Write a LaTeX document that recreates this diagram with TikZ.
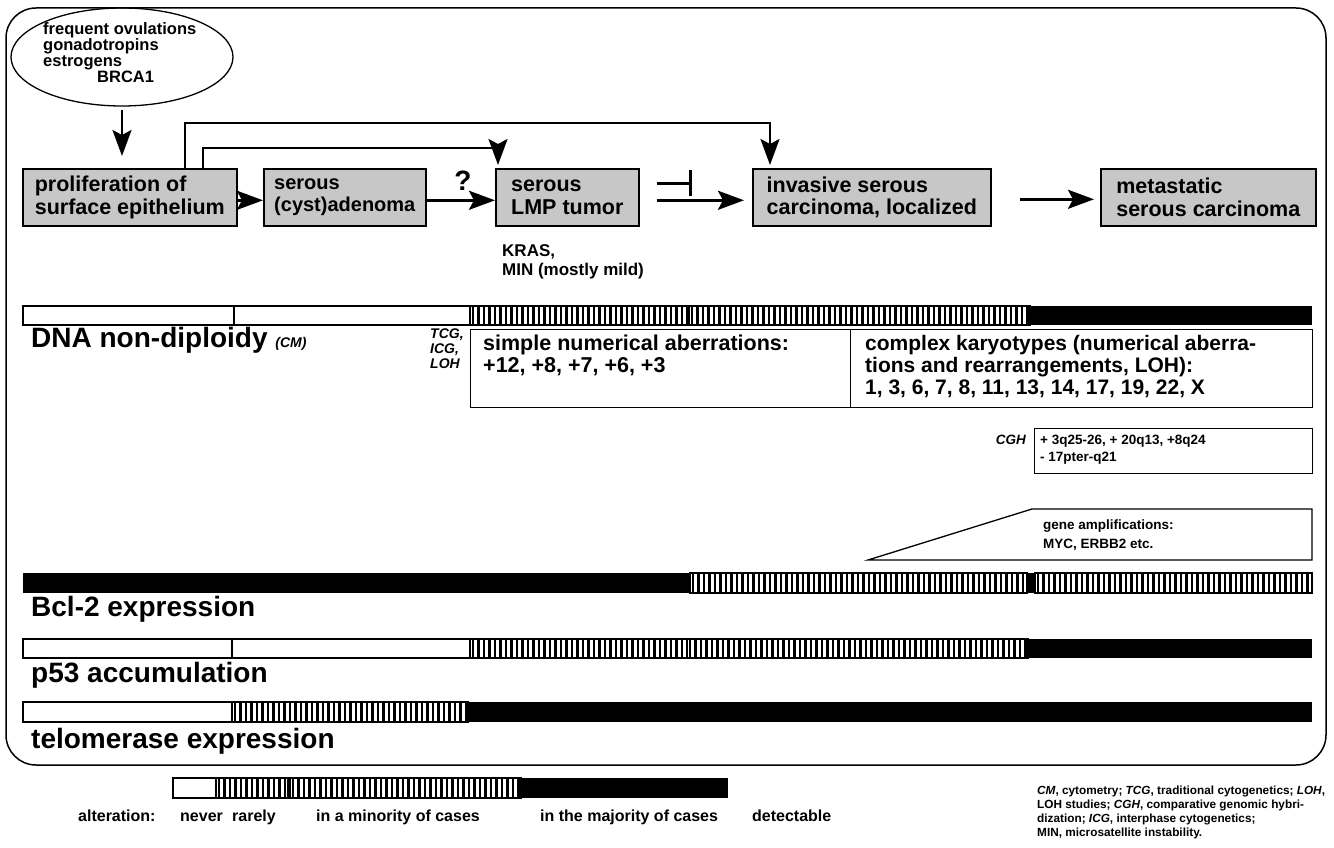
\documentclass[tikz,border=0pt]{standalone}
\usepackage{fontspec}
\setmainfont{Liberation Sans}
\usetikzlibrary{arrows.meta,shapes.geometric}
\newcommand\fsz[2]{\fontsize{#1}{#2}\selectfont\bfseries}
\newcommand\stripebar[4]{%
  \fill[white] (#1,#3) rectangle (#2,#4);
  \pgfmathtruncatemacro\nst{(#2-#1-3)/5.5}%
  \foreach \i in {0,...,\nst}{\fill (#1+1.5+\i*5.5,#3) rectangle ++(2.5,#4-#3);}%
  \draw[bar] (#1,#3) rectangle (#2,#4);}
\begin{document}
\begin{tikzpicture}[x=1pt,y=-1pt,
  bar/.style={line width=1.3pt},
  arr/.style={line width=2.6pt, -{Stealth[length=26pt,width=19pt,inset=5pt]}},
  stage/.style={draw, line width=1.6pt, fill=black!22, anchor=north west, minimum height=57pt, inner xsep=12pt, inner ysep=0pt, align=left, font=\fsz{21.5}{22.5}},
  lab/.style={inner sep=0pt, anchor=base west},
  frame/.style={draw, line width=1.4pt, anchor=north west, inner sep=0pt}
]
\useasboundingbox (0,0) rectangle (1334,848);
\draw[line width=1.5pt, rounded corners=30pt] (6,8) rectangle (1326,765);

% causes
\node[ellipse, draw, line width=1.3pt, minimum width=222pt, minimum height=98pt, inner sep=0pt] (ell) at (122,57) {};
\node[lab, font=\fsz{16.5}{18}] (e1) at (43,35) {frequent ovulations};
\node[lab, font=\fsz{16.5}{18}] (e2) at (43,51) {gonadotropins};
\node[lab, font=\fsz{16.5}{18}] (e3) at (43,67) {estrogens};
\node[lab, font=\fsz{16.5}{18}] (e4) at (97,83) {BRCA1};

% stages
\node[stage, minimum width=208pt] (p) at (22,168) {proliferation of\\surface epithelium};
\node[stage, minimum width=162pt, font=\fsz{20}{22.5}, inner xsep=8pt] (a) at (263,168) {serous\\(cyst)adenoma};
\node[stage, minimum width=143pt] (lmp) at (495,168) {serous\\LMP tumor};
\node[stage, minimum width=238pt] (inv) at (752,168) {invasive serous\\carcinoma, localized};
\node[stage, minimum width=215pt] (met) at (1100,168) {metastatic\\serous carcinoma};

\draw[arr, shorten <=3pt, shorten >=12pt] (ell.south) -- (ell.south |- p.north);
\draw[arr] ([yshift=-3pt]p.east) -- ([yshift=-3pt]a.west);
\draw[arr] ([yshift=-3pt]a.east) -- ([yshift=-3pt]lmp.west);
\draw[arr, shorten <=17pt, shorten >=8pt] ([yshift=-3pt]lmp.east) -- ([yshift=-3pt]inv.west);
\draw[line width=2.6pt, -{Bar[width=26pt,line width=2.6pt]}, shorten <=17pt] ([yshift=14pt]lmp.east) -- ++(52,0);
\draw[arr, shorten <=28pt, shorten >=6pt] ([yshift=-2pt]inv.east) -- ([yshift=-2pt]met.west);
\draw[arr, shorten >=3pt] ([xshift=163pt]p.north west) -- ++(0,-45) -| ([xshift=18pt]inv.north west);
\draw[arr, shorten >=3pt] ([xshift=181pt]p.north west) -- ++(0,-20) -| ([xshift=3pt]lmp.north west);
\node[font=\fsz{28}{28}, inner sep=0pt] (q) at (463,181) {?};

\node[lab, font=\fsz{17}{19}] (kras) at (502,256) {KRAS,};
\node[lab, font=\fsz{17}{19}] (min) at (502,275) {MIN (mostly mild)};

% DNA bar
\draw[bar] (23,306) rectangle (234,325);
\draw[bar] (234,306) rectangle (470,325);
\stripebar{470}{689}{306}{325}
\stripebar{689}{1030}{306}{325}
\fill (1030,306) rectangle (1312,325);
\node[lab, font=\fsz{28}{30}] (dna) at (31,347) {DNA non-diploidy {\fontsize{14}{15}\selectfont\itshape (CM)}};

\node[lab, font=\fsz{14}{15}\itshape] (tcg) at (430,338) {TCG,};
\node[lab, font=\fsz{14}{15}\itshape] (icg) at (430,353) {ICG,};
\node[lab, font=\fsz{14}{15}\itshape] (loh) at (430,368) {LOH};

\node[frame, minimum width=380pt, minimum height=78pt] (sbox) at (470,329) {};
\node[lab, font=\fsz{21.5}{24}] (s1) at (483,350) {simple numerical aberrations:};
\node[lab, font=\fsz{21.5}{24}] (s2) at (483,372) {+12, +8, +7, +6, +3};

\node[frame, minimum width=462pt, minimum height=78pt] (cbox) at (850,329) {};
\node[lab, font=\fsz{21}{23}] (c1) at (865,350) {complex karyotypes (numerical aberra-};
\node[lab, font=\fsz{21}{23}] (c2) at (865,372) {tions and rearrangements, LOH):};
\node[lab, font=\fsz{21}{23}] (c3) at (865,394) {1, 3, 6, 7, 8, 11, 13, 14, 17, 19, 22, X};

\node[anchor=base east, inner sep=0pt, font=\fsz{13.5}{15}\itshape] (cgh) at (1026,444) {CGH};
\node[frame, minimum width=278pt, minimum height=45pt] (gbox) at (1034,428) {};
\node[lab, font=\fsz{13.5}{15}] (g1) at (1040,444) {+ 3q25-26, + 20q13, +8q24};
\node[lab, font=\fsz{13.5}{15}] (g2) at (1040,461) {- 17pter-q21};

\draw[line width=1.3pt] (868,560) -- (1032,509) -- (1312,509) -- (1312,560) -- cycle;
\node[lab, font=\fsz{13.5}{15}] (m1) at (1043,529) {gene amplifications:};
\node[lab, font=\fsz{13.5}{15}] (m2) at (1043,548) {MYC, ERBB2 etc.};

% Bcl-2
\fill (23,573) rectangle (690,593);
\stripebar{690}{1027}{573}{593}
\fill (1027,573) rectangle (1035,593);
\stripebar{1035}{1312}{573}{593}
\node[lab, font=\fsz{28}{30}] (bcl) at (31,616) {Bcl-2 expression};

% p53
\draw[bar] (23,639) rectangle (232,658);
\draw[bar] (232,639) rectangle (470,658);
\stripebar{470}{687}{639}{658}
\stripebar{687}{1028}{639}{658}
\fill (1028,639) rectangle (1312,658);
\node[lab, font=\fsz{28}{30}] (p53) at (31,682) {p53 accumulation};

% telomerase
\draw[bar] (23,702) rectangle (232,722);
\stripebar{232}{468}{702}{722}
\fill (468,702) rectangle (1312,722);
\node[lab, font=\fsz{28}{30}] (tel) at (31,748) {telomerase expression};

% legend
\draw[bar] (173,778) rectangle (216,798);
\stripebar{216}{288}{778}{798}
\stripebar{290}{521}{778}{798}
\fill (521,778) rectangle (728,798);
\node[lab, font=\fsz{16}{17}] (l0) at (78,821) {alteration:};
\node[lab, font=\fsz{16}{17}] (l1) at (180,821) {never};
\node[lab, font=\fsz{16}{17}] (l2) at (232,821) {rarely};
\node[lab, font=\fsz{16}{17}] (l3) at (316,821) {in a minority of cases};
\node[lab, font=\fsz{16}{17}] (l4) at (540,821) {in the majority of cases};
\node[lab, font=\fsz{16}{17}] (l5) at (752,821) {detectable};

\node[lab, font=\fsz{11.8}{13}] (k1) at (1037,794) {\textit{CM}, cytometry; \textit{TCG}, traditional cytogenetics; \textit{LOH},};
\node[lab, font=\fsz{11.8}{13}] (k2) at (1037,808) {LOH studies; \textit{CGH}, comparative genomic hybri-};
\node[lab, font=\fsz{11.8}{13}] (k3) at (1037,822) {dization; \textit{ICG}, interphase cytogenetics;};
\node[lab, font=\fsz{11.8}{13}] (k4) at (1037,836) {MIN, microsatellite instability.};
\end{tikzpicture}
\end{document}
